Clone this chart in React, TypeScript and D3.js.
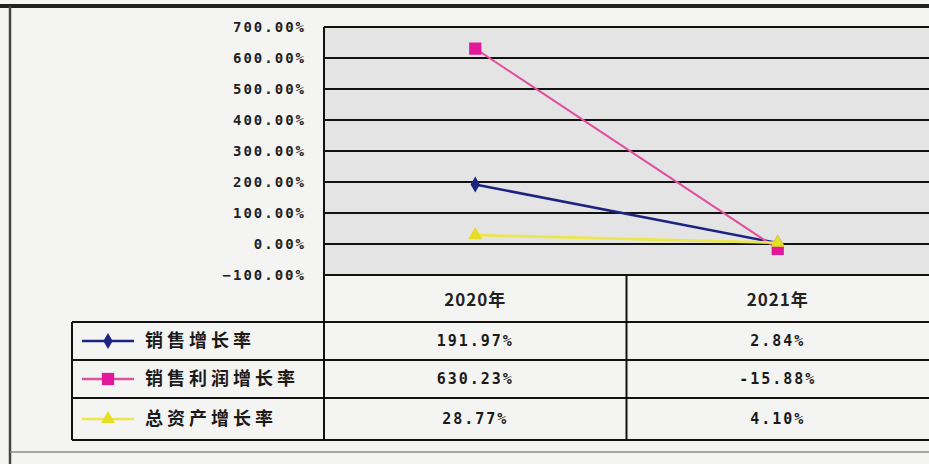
import { useEffect } from "react";
import * as d3 from "d3";

// Excel-style line chart with data table underneath (scanned report page).

const categories = ["2020年", "2021年"];
const seriesNames = ["销售增长率", "销售利润增长率", "总资产增长率"];
const salesGrowth = [191.97, 2.84];
const profitGrowth = [630.23, -15.88];
const assetGrowth = [28.77, 4.1];
const tableText = [
  ["191.97%", "2.84%"],
  ["630.23%", "-15.88%"],
  ["28.77%", "4.10%"],
];
const yTicks = [700, 600, 500, 400, 300, 200, 100, 0, -100];

const W = 929;
const H = 464;

const COLORS = ["#1c2380", "#e2189a", "#e6de22"];
const LINE_COLORS = ["#1c2380", "#e0509e", "#ece64a"];
const MARKERS = [d3.symbolDiamond, d3.symbolSquare, d3.symbolTriangle];

const MONO = "'DejaVu Sans Mono', 'Liberation Mono', monospace";
const CJK = "'Noto Sans CJK SC', sans-serif";

export default function App() {
  useEffect(() => {
    document.body.style.margin = "0";
  }, []);

  const plotLeft = 324;
  const plotRight = W;
  const tableLeft = 72;
  const rowLines = [322, 360, 398, 440];

  const x = d3.scaleBand<string>().domain(categories).range([plotLeft, plotRight]);
  const y = d3.scaleLinear().domain([-100, 700]).range([275, 27]);

  const series = [salesGrowth, profitGrowth, assetGrowth];
  const line = d3
    .line<number>()
    .x((_, i) => (x(categories[i]) ?? 0) + x.bandwidth() / 2)
    .y((d) => y(d));

  // diamond/triangle a bit smaller than the square, like the Excel defaults
  const sym = (i: number, size: number) => d3.symbol().type(MARKERS[i]).size(size)() ?? "";
  const markerSize = [75, 150, 85];

  return (
    <svg width={W} height={H} style={{ display: "block", background: "#f4f4f2" }}>
      {/* outer frame */}
      <line x1={0} x2={W} y1={6} y2={6} stroke="#222" strokeWidth={4} />
      <line x1={10} x2={10} y1={6} y2={H} stroke="#444" strokeWidth={2.5} />
      <line x1={10} x2={W} y1={452} y2={452} stroke="#888" strokeWidth={1.5} />

      {/* plot area */}
      <rect x={plotLeft} y={y(700)} width={plotRight - plotLeft} height={y(-100) - y(700)} fill="#e4e4e4" />
      {yTicks.map((t) => (
        <line key={t} x1={plotLeft} x2={plotRight} y1={y(t)} y2={y(t)} stroke="#111" strokeWidth={2.2} />
      ))}
      {yTicks.map((t) => (
        <text
          key={"l" + t}
          x={plotLeft - 18}
          y={y(t)}
          dy="0.35em"
          textAnchor="end"
          fontFamily={MONO}
          fontWeight="bold"
          fontSize={14}
          letterSpacing={2}
          fill="#222"
        >
          {d3.format(".2f")(t)}%
        </text>
      ))}

      {/* series lines + markers */}
      {series.map((s, i) => (
        <g key={seriesNames[i]}>
          <path d={line(s) ?? ""} fill="none" stroke={LINE_COLORS[i]} strokeWidth={i === 1 ? 2 : 2.6} />
          {s.map((v, j) => (
            <path
              key={j}
              transform={`translate(${(x(categories[j]) ?? 0) + x.bandwidth() / 2},${y(v)})`}
              d={sym(i, markerSize[i])}
              fill={COLORS[i]}
            />
          ))}
        </g>
      ))}

      {/* data table */}
      <g stroke="#111" strokeWidth={2}>
        <line x1={plotLeft} x2={plotLeft} y1={y(700)} y2={rowLines[3]} />
        <line x1={plotLeft + x.bandwidth()} x2={plotLeft + x.bandwidth()} y1={y(-100)} y2={rowLines[3]} />
        <line x1={tableLeft} x2={tableLeft} y1={rowLines[0]} y2={rowLines[3]} />
        {rowLines.map((r) => (
          <line key={r} x1={tableLeft} x2={W} y1={r} y2={r} />
        ))}
      </g>
      {categories.map((c) => (
        <text
          key={c}
          x={(x(c) ?? 0) + x.bandwidth() / 2}
          y={(y(-100) + rowLines[0]) / 2 + 2}
          dy="0.35em"
          textAnchor="middle"
          fontFamily={CJK}
          fontWeight="bold"
          fontSize={17}
          letterSpacing={1}
          fill="#222"
        >
          {c}
        </text>
      ))}
      {seriesNames.map((name, i) => {
        const cy = (rowLines[i] + rowLines[i + 1]) / 2;
        return (
          <g key={name}>
            <line x1={82} x2={134} y1={cy} y2={cy} stroke={LINE_COLORS[i]} strokeWidth={2.5} />
            <path transform={`translate(108,${cy})`} d={sym(i, markerSize[i])} fill={COLORS[i]} />
            <text
              x={145}
              y={cy}
              dy="0.35em"
              fontFamily={CJK}
              fontWeight="bold"
              fontSize={18}
              letterSpacing={4}
              fill="#1a1a1a"
            >
              {name}
            </text>
            {categories.map((c, j) => (
              <text
                key={c}
                x={(x(c) ?? 0) + x.bandwidth() / 2}
                y={cy}
                dy="0.35em"
                textAnchor="middle"
                fontFamily={MONO}
                fontWeight="bold"
                fontSize={15}
                letterSpacing={2}
                fill="#1a1a1a"
              >
                {tableText[i][j]}
              </text>
            ))}
          </g>
        );
      })}
    </svg>
  );
}
